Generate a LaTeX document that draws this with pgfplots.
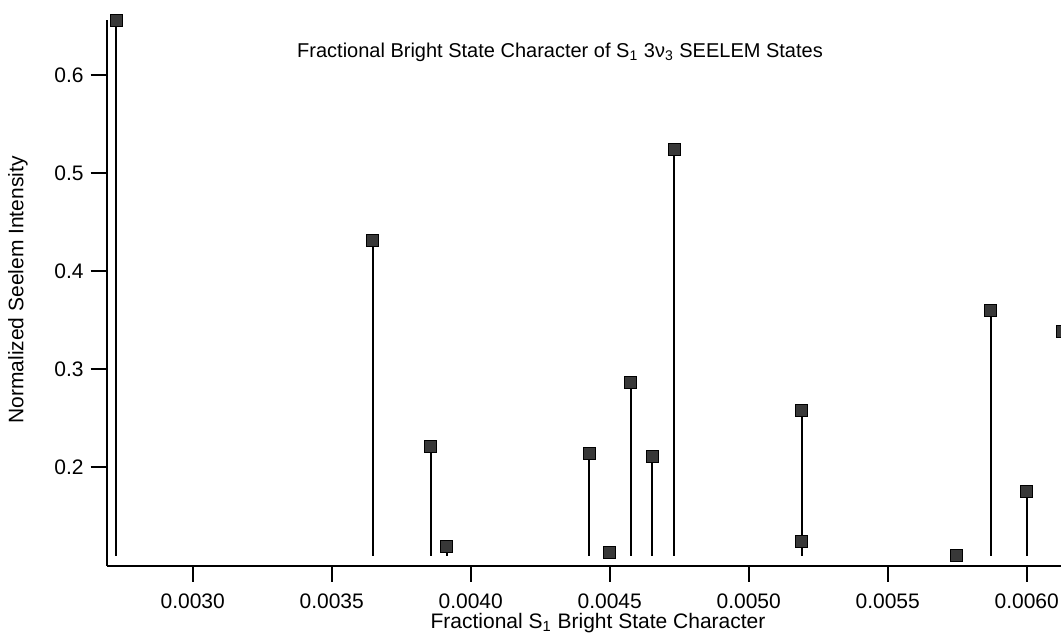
\documentclass[border=0pt]{standalone}
\usepackage{fontspec}
\setmainfont{Liberation Sans}
\usepackage{pgfplots}
\usepackage{pgfplotstable}
\pgfplotsset{compat=1.18}

\pgfplotstableread{
x y
0.002724 0.656
0.003647 0.431
0.003856 0.2207
0.003914 0.1187
0.004426 0.214
0.004500 0.1126
0.004576 0.2867
0.004653 0.2105
0.004732 0.524
0.005191 0.258
0.005191 0.1238
0.005746 0.1100
0.005870 0.360
0.006000 0.1748
0.006130 0.338
}\datatable

\begin{document}
\begin{tikzpicture}
\path[use as bounding box] (-53.35pt,-35pt) rectangle (477.15pt,283pt);
\begin{axis}[
  at={(0pt,0pt)}, anchor=south west,
  scale only axis,
  width=477.15pt, height=273pt,
  xmin=0.0026906, xmax=0.0061234,
  ymin=0.09898, ymax=0.6561,
  axis lines=left,
  axis line style={-, line width=1pt, black},
  clip=false,
  tick align=outside,
  major tick length=8pt,
  tick style={black, line width=1pt},
  scaled x ticks=false, scaled y ticks=false,
  xtick={0.0030,0.0035,0.0040,0.0045,0.0050,0.0055,0.0060},
  xticklabels={0.0030,0.0035,0.0040,0.0045,0.0050,0.0055,0.0060},
  ytick={0.2,0.3,0.4,0.5,0.6},
  yticklabels={0.2,0.3,0.4,0.5,0.6},
  ticklabel style={font=\fontsize{10.5}{12}\selectfont},
  xticklabel style={yshift=-2.5pt},
]
\addplot[
  only marks,
  mark=square*,
  mark size=3pt,
  mark options={fill=black!78, draw=black, line width=0.4pt},
  error bars/.cd,
    y dir=minus, y explicit,
    error mark=none,
    error bar style={line width=1pt, black},
] table[x=x, y=y, y error expr=\thisrow{y}-0.1092] {\datatable};
\end{axis}
\node[font=\fontsize{10}{12}\selectfont] at (226.65pt,257pt) {Fractional Bright State Character of S\textsubscript{1} 3ν\textsubscript{3} SEELEM States};
\node[font=\fontsize{10.5}{12}\selectfont] at (245.65pt,-28.5pt) {Fractional S\textsubscript{1} Bright State Character};
\node[font=\fontsize{10.5}{12}\selectfont, rotate=90] at (-44.35pt,138pt) {Normalized Seelem Intensity};
\end{tikzpicture}
\end{document}
